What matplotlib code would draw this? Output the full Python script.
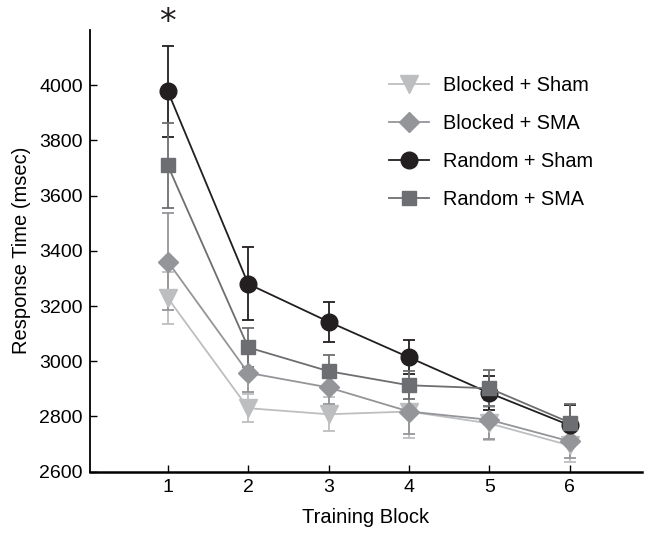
import numpy as np
import matplotlib
matplotlib.use("Agg")
import matplotlib.pyplot as plt
from matplotlib.lines import Line2D

plt.rcParams['font.family'] = ['Liberation Sans', 'DejaVu Sans']

# Data
blocks = [1, 2, 3, 4, 5, 6]

blocked_sham = [3229, 2830, 2808, 2818, 2775, 2695]
blocked_sham_err = [95, 50, 62, 95, 60, 60]

blocked_sma = [3361, 2958, 2905, 2818, 2788, 2710]
blocked_sma_err = [175, 70, 60, 80, 70, 60]

random_sham = [3978, 3280, 3143, 3014, 2885, 2768]
random_sham_err = [165, 132, 73, 62, 62, 72]

random_sma = [3709, 3050, 2964, 2913, 2902, 2778]
random_sma_err = [155, 70, 60, 50, 65, 67]

series = [
    ("Blocked + Sham", blocked_sham, blocked_sham_err, "#bcbec0", "v", 13),
    ("Blocked + SMA", blocked_sma, blocked_sma_err, "#939598", "D", 10),
    ("Random + Sham", random_sham, random_sham_err, "#231f20", "o", 12),
    ("Random + SMA", random_sma, random_sma_err, "#6d6e71", "s", 10),
]

fig = plt.figure(figsize=(6.46, 5.33), dpi=100)
ax = fig.add_axes([0.139, 0.115, 0.855, 0.829])

handles = []
for label, vals, errs, col, mk, ms in series:
    ax.errorbar(blocks, vals, yerr=errs, color=col, marker=mk, markersize=ms,
                linewidth=1.3, elinewidth=1.3, capsize=4, capthick=1.3)
    handles.append(Line2D([], [], color=col, marker=mk, markersize=ms,
                          linewidth=1.3, label=label))

# significance marker above block 1
ax.text(1, 4225, "*", ha="center", va="center", fontsize=24,
        family="DejaVu Sans", color="#231f20", clip_on=False)

ax.set_xlim(0.03, 6.9)
ax.set_ylim(2600, 4200)
ax.set_xticks(blocks)
ax.set_yticks(np.arange(2600, 4001, 200))
ax.tick_params(direction="in", labelsize=14, length=5, width=1, pad=5)
ax.spines['top'].set_visible(False)
ax.spines['right'].set_visible(False)
ax.spines['left'].set_linewidth(1.3)
ax.spines['bottom'].set_linewidth(1.8)

ax.set_xlabel("Training Block", fontsize=14.5, labelpad=9)
ax.set_ylabel("Response Time (msec)", fontsize=14.5, labelpad=6)

ax.legend(handles=handles, loc="upper left", bbox_to_anchor=(0.51, 0.935),
          frameon=False, fontsize=14.3, handlelength=2.0, handletextpad=0.7,
          labelspacing=0.95)

fig.savefig("out.png", dpi=100)
